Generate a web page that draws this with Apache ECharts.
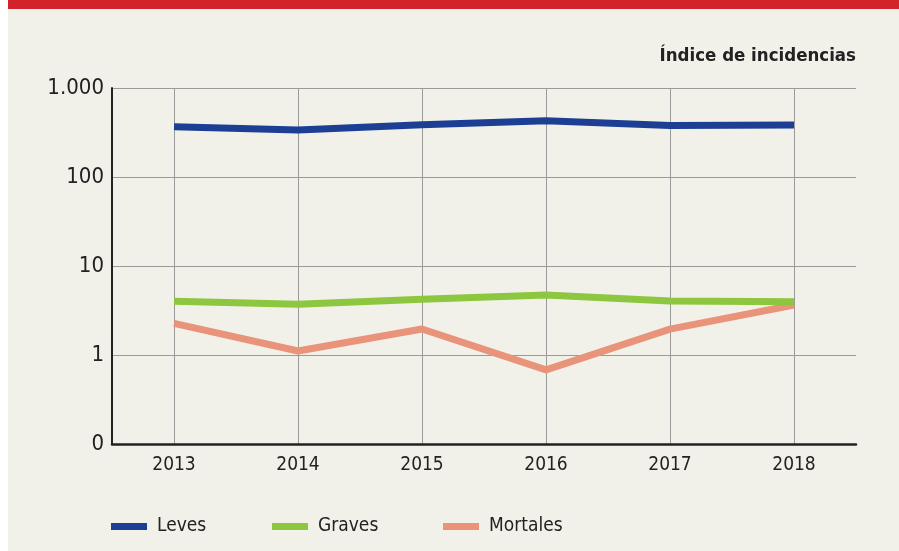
<!DOCTYPE html>
<html>
<head>
<meta charset="utf-8">
<script src="https://cdn.jsdelivr.net/npm/echarts@6/dist/echarts.min.js"></script>
<style>
  html, body { margin: 0; padding: 0; background: #fff; }
  #frame { position: absolute; left: 8px; top: 0; width: 891px; height: 551px; background: #f2f1e9; }
  #bar { position: absolute; left: 8px; top: 0; width: 891px; height: 9px; background: #d2232a; }
  #chart { position: absolute; left: 0; top: 0; width: 899px; height: 551px; }
</style>
</head>
<body>
<div id="frame"></div>
<div id="bar"></div>
<div id="chart"></div>
<script>
// Índice de incidencias 2013-2018, eje logarítmico
const years = ["2013", "2014", "2015", "2016", "2017", "2018"];
const leves = [367, 337, 386, 429, 379, 384];
const graves = [4.02, 3.71, 4.23, 4.73, 4.05, 3.97];
const mortales = [2.27, 1.11, 1.96, 0.68, 1.95, 3.65];
const yTicks = [0.1, 1, 10, 100, 1000];
const yTickLabels = ["0", "1", "10", "100", "1.000"];

const font = '"Liberation Sans Narrow", "DejaVu Sans Condensed", sans-serif';
const colors = { leves: "#1c3f94", graves: "#8dc63f", mortales: "#e8937a" };

function tickLabel(v) {
  let best = 0;
  yTicks.forEach((t, i) => {
    if (Math.abs(Math.log10(t) - Math.log10(v)) < Math.abs(Math.log10(yTicks[best]) - Math.log10(v))) best = i;
  });
  return yTickLabels[best];
}

function legendAt(left, name) {
  return {
    left, top: 512, data: [name], icon: "rect", itemWidth: 36, itemHeight: 7, itemGap: 0,
    selectedMode: false,
    textStyle: { fontFamily: font, fontSize: 19, color: "#222", padding: [0, 0, 0, 5] },
  };
}

const chart = echarts.init(document.getElementById("chart"));
chart.setOption({
  animation: false,
  backgroundColor: "transparent",
  title: {
    text: "Índice de incidencias", right: 38, top: 42,
    textStyle: { fontFamily: font, fontSize: 18.5, fontWeight: "bold", color: "#222" },
  },
  legend: [legendAt(106, "Leves"), legendAt(267, "Graves"), legendAt(438, "Mortales")],
  grid: { left: 112, right: 43, top: 88, bottom: 107 },
  xAxis: {
    type: "category", data: years, boundaryGap: true,
    axisLine: { lineStyle: { color: "#222", width: 2.5 } },
    axisTick: { show: false },
    axisLabel: { fontFamily: font, fontSize: 19, color: "#222", margin: 12 },
    splitLine: { show: true, alignWithLabel: true, lineStyle: { color: "#9a9a9a", width: 1 } },
  },
  yAxis: {
    type: "log", logBase: 10, min: 0.1, max: 1000,
    axisLine: { show: true, lineStyle: { color: "#222", width: 2 } },
    axisTick: { show: false },
    axisLabel: { fontFamily: font, fontSize: 22, color: "#222", margin: 8, formatter: tickLabel },
    splitLine: { show: true, lineStyle: { color: "#9a9a9a", width: 1 } },
  },
  series: [
    { name: "Mortales", type: "line", data: mortales, showSymbol: false,
      lineStyle: { width: 7, color: colors.mortales }, itemStyle: { color: colors.mortales } },
    { name: "Graves", type: "line", data: graves, showSymbol: false,
      lineStyle: { width: 7, color: colors.graves }, itemStyle: { color: colors.graves } },
    { name: "Leves", type: "line", data: leves, showSymbol: false,
      lineStyle: { width: 7, color: colors.leves }, itemStyle: { color: colors.leves } },
  ],
});
</script>
</body>
</html>
